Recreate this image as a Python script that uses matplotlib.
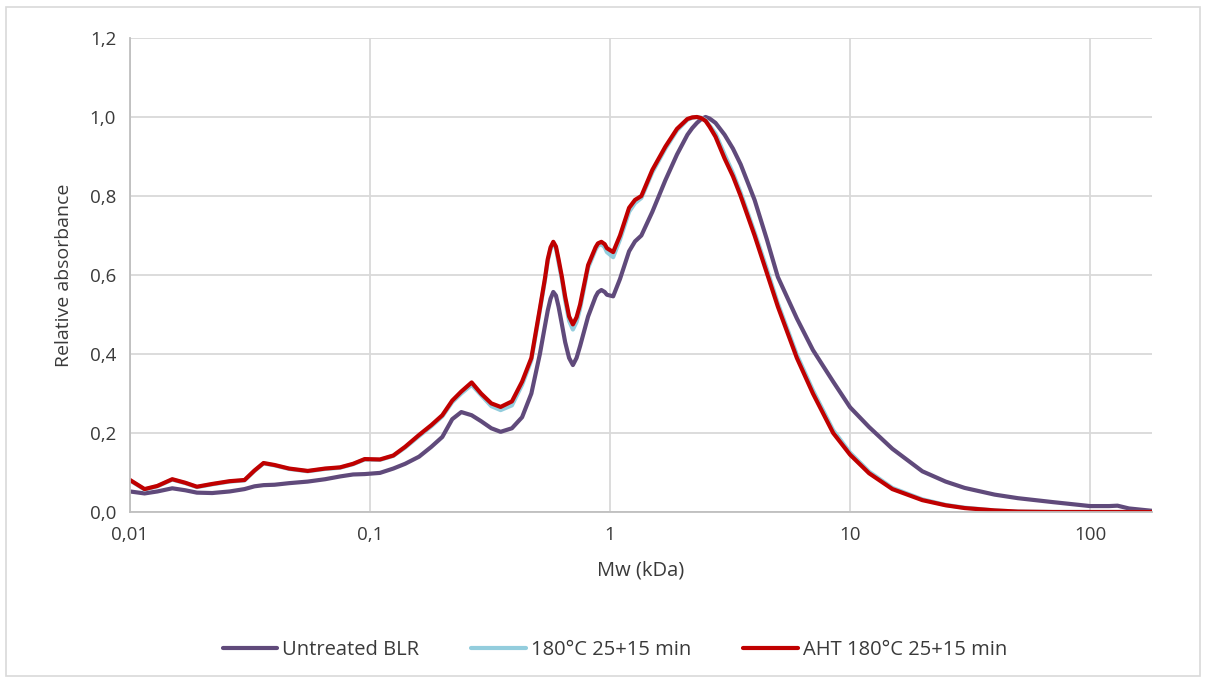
import numpy as np
import matplotlib.pyplot as plt
from matplotlib.patches import Rectangle
from matplotlib.ticker import FixedLocator, FixedFormatter, NullLocator

##### Data #####
mw = [0.010, 0.0115, 0.013, 0.015, 0.017, 0.019, 0.022, 0.026, 0.030, 0.033,
      0.036, 0.040, 0.046, 0.055, 0.065, 0.075, 0.085, 0.095, 0.11, 0.125,
      0.14, 0.16, 0.18, 0.20, 0.22, 0.24, 0.265, 0.29, 0.32, 0.35,
      0.39, 0.43, 0.47, 0.51, 0.535, 0.55, 0.565, 0.58, 0.595, 0.61,
      0.63, 0.65, 0.675, 0.70, 0.725, 0.75, 0.81, 0.87, 0.89, 0.92,
      0.95, 0.97, 1.03, 1.10, 1.20, 1.27, 1.35, 1.5, 1.7, 1.9,
      2.1, 2.2, 2.3, 2.4, 2.5, 2.6, 2.75, 3.0, 3.25, 3.5,
      4.0, 4.5, 5.0, 6.0, 7.0, 8.5, 10, 12, 15, 20,
      25, 30, 40, 50, 70, 100, 120, 130, 145, 181]

untreated = [0.052, 0.047, 0.052, 0.060, 0.055, 0.049, 0.048, 0.052, 0.058, 0.065,
             0.068, 0.069, 0.073, 0.077, 0.083, 0.090, 0.095, 0.096, 0.099, 0.110,
             0.122, 0.140, 0.165, 0.190, 0.235, 0.253, 0.245, 0.230, 0.212, 0.203,
             0.212, 0.240, 0.300, 0.400, 0.470, 0.510, 0.540, 0.557, 0.548, 0.520,
             0.475, 0.430, 0.390, 0.372, 0.390, 0.420, 0.495, 0.545, 0.556, 0.562,
             0.557, 0.550, 0.546, 0.590, 0.660, 0.685, 0.700, 0.760, 0.840, 0.905,
             0.955, 0.972, 0.985, 0.995, 1.000, 0.996, 0.985, 0.955, 0.920, 0.880,
             0.790, 0.690, 0.595, 0.490, 0.410, 0.330, 0.265, 0.215, 0.160, 0.103,
             0.077, 0.061, 0.044, 0.035, 0.025, 0.015, 0.015, 0.016, 0.009, 0.003]

treated_180 = [0.080, 0.057, 0.065, 0.082, 0.073, 0.063, 0.070, 0.077, 0.080, 0.104,
               0.123, 0.118, 0.109, 0.103, 0.109, 0.112, 0.121, 0.133, 0.132, 0.142,
               0.163, 0.192, 0.217, 0.242, 0.278, 0.300, 0.322, 0.296, 0.268, 0.258,
               0.270, 0.322, 0.384, 0.510, 0.585, 0.636, 0.665, 0.680, 0.668, 0.632,
               0.588, 0.535, 0.484, 0.462, 0.481, 0.515, 0.618, 0.664, 0.674, 0.678,
               0.670, 0.658, 0.645, 0.690, 0.760, 0.782, 0.795, 0.860, 0.920, 0.966,
               0.993, 0.998, 1.000, 0.998, 0.992, 0.978, 0.958, 0.905, 0.858, 0.808,
               0.708, 0.615, 0.528, 0.398, 0.308, 0.207, 0.150, 0.102, 0.061, 0.032,
               0.018, 0.011, 0.004, 0.001, 0.0, 0.0, 0.0, 0.0, 0.0, 0.0]

aht_180 = [0.081, 0.058, 0.066, 0.083, 0.074, 0.064, 0.071, 0.078, 0.081, 0.105,
           0.124, 0.119, 0.110, 0.104, 0.110, 0.113, 0.122, 0.134, 0.133, 0.143,
           0.165, 0.195, 0.220, 0.245, 0.282, 0.305, 0.328, 0.300, 0.275, 0.266,
           0.280, 0.330, 0.390, 0.515, 0.590, 0.640, 0.670, 0.684, 0.672, 0.640,
           0.595, 0.545, 0.495, 0.475, 0.493, 0.525, 0.625, 0.670, 0.680, 0.684,
           0.678, 0.668, 0.658, 0.700, 0.770, 0.790, 0.800, 0.866, 0.925, 0.970,
           0.995, 0.999, 1.000, 0.997, 0.990, 0.975, 0.950, 0.895, 0.850, 0.800,
           0.700, 0.605, 0.520, 0.390, 0.300, 0.200, 0.145, 0.098, 0.058, 0.030,
           0.017, 0.010, 0.004, 0.001, 0.0, 0.0, 0.0, 0.0, 0.0, 0.0]

labels = ['Untreated BLR', '180°C 25+15 min', 'AHT 180°C 25+15 min']
colors = ['#604a7b', '#93cddd', '#c00000']

xticks = [0.01, 0.1, 1, 10, 100]
xticklabels = ['0,01', '0,1', '1', '10', '100']
yticks = [0.0, 0.2, 0.4, 0.6, 0.8, 1.0, 1.2]
yticklabels = ['0,0', '0,2', '0,4', '0,6', '0,8', '1,0', '1,2']
########################

plt.rcParams['font.family'] = ['Open Sans', 'DejaVu Sans']
txt = '#3a3a3a'
grid = '#d9d9d9'

fig = plt.figure(figsize=(12.08, 6.83), dpi=100)
ax = fig.add_axes([130/1208, 1-512/683, (1152-130)/1208, (512-38)/683])

for ys, lab, c in zip([untreated, treated_180, aht_180], labels, colors):
    ax.plot(mw, ys, color=c, lw=3, label=lab, solid_capstyle='round',
            solid_joinstyle='round')

ax.set_xscale('log')
ax.set_xlim(0.01, 181)
ax.set_ylim(0, 1.2)
ax.xaxis.set_major_locator(FixedLocator(xticks))
ax.xaxis.set_major_formatter(FixedFormatter(xticklabels))
ax.xaxis.set_minor_locator(NullLocator())
ax.set_yticks(yticks)
ax.set_yticklabels(yticklabels)
ax.tick_params(length=0, labelsize=13.5, colors=txt, pad=10)

ax.grid(True, color=grid, lw=1.3)
ax.set_axisbelow(True)
for s in ['top', 'right']:
    ax.spines[s].set_visible(False)
for s in ['left', 'bottom']:
    ax.spines[s].set_color('#bfbfbf')
    ax.spines[s].set_linewidth(1.3)

ax.set_xlabel('Mw (kDa)', fontsize=14.5, color=txt, labelpad=12)
ax.set_ylabel('Relative absorbance', fontsize=14, color=txt, labelpad=12)

fig.legend(loc='center', bbox_to_anchor=(0.509, 1-650/683), ncol=3, frameon=False,
           fontsize=14.5, labelcolor=txt, handlelength=2.7, handletextpad=0.25,
           columnspacing=2.6)

fig.patches.append(Rectangle((6/1208, 7/683), 1194/1208, 669/683, transform=fig.transFigure,
                             fill=False, edgecolor='#d9d9d9', lw=1.2))

plt.savefig('out.png', dpi=100)
